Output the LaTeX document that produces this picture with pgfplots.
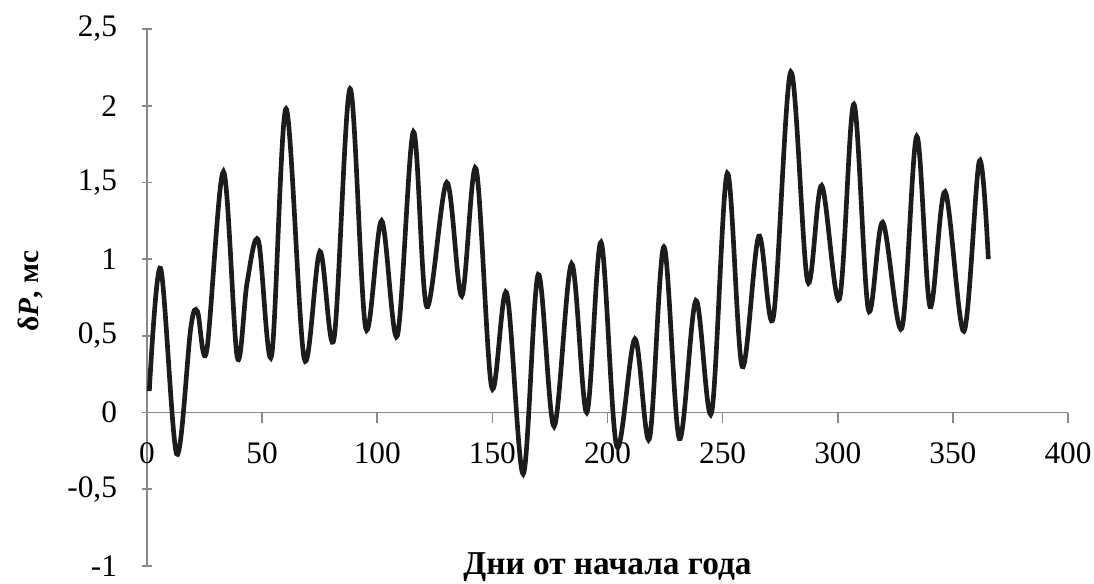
\documentclass[border=0pt]{standalone}
\usepackage{fontspec}
\setmainfont{Liberation Serif}
\usepackage{pgfplots}
\pgfplotsset{compat=1.18}

\definecolor{axgray}{HTML}{898989}
\definecolor{curve}{HTML}{1C1C1C}

\begin{document}
\begin{tikzpicture}
\begin{axis}[
    scale only axis,
    width=690.75pt, height=402.75pt,
    xmin=0, xmax=400, ymin=-1, ymax=2.5,
    axis x line=middle, axis y line=left,
    axis line style={-, axgray, line width=1.2pt},
    every tick/.style={axgray, line width=1.2pt},
    major tick length=8pt,
    xtick={0,50,...,400},
    ytick={-1,-0.5,...,2.5},
    x tick style={yshift=-4pt},
    hide obscured x ticks=false, hide obscured y ticks=false,
    /pgf/number format/.cd, use comma, assume math mode=true, /pgfplots/.cd,
    tick label style={font=\fontsize{23.5}{26}\selectfont},
    xticklabel style={anchor=north, yshift=-15pt},
    yticklabel style={anchor=east, xshift=-15pt},
    xlabel={\textbf{Дни от начала года}},
    xlabel style={font=\fontsize{25}{28}\selectfont, at={(axis description cs:0.5,0)}, yshift=-6.5pt, anchor=base},
    ylabel={\textbf{δ\textit{P}, мс}},
    ylabel style={font=\fontsize{22}{25}\selectfont, at={(axis description cs:-0.127,0.512)}, anchor=center},
]
\addplot[curve, line width=3.5pt, smooth, tension=0.55] coordinates {
    (1,0.14) (5.9,0.94) (12.9,-0.27) (19,0.55) (21.9,0.66) (25.9,0.40)
    (33.2,1.57) (39.2,0.36) (43.5,0.85) (48.4,1.12) (54.1,0.37) (60.4,1.98)
    (68.3,0.35) (75.1,1.05) (81.2,0.48) (88.2,2.11) (95,0.55) (101.9,1.25)
    (108.7,0.50) (115.7,1.83) (121.5,0.69) (130.2,1.50) (136.7,0.76) (142.9,1.59)
    (149.7,0.165) (156.2,0.78) (163.4,-0.40) (169.9,0.90) (176.8,-0.09) (184.4,0.97)
    (191,0.0) (197.2,1.11) (204,-0.22) (211.9,0.48) (218.2,-0.17) (224.5,1.08)
    (231.2,-0.17) (238.4,0.73) (245.2,0.0) (252,1.56) (258.5,0.30) (265.7,1.15)
    (272,0.62) (279.6,2.22) (286.9,0.855) (293,1.48) (300.7,0.74) (307,2.01)
    (313.3,0.67) (319.5,1.24) (327.8,0.55) (334.3,1.80) (340.1,0.69) (346.6,1.44)
    (354.8,0.53) (361.5,1.64) (365.4,1.00)
};
\end{axis}
\pgfresetboundingbox
\path[use as bounding box] ([xshift=-110.25pt,yshift=-12.75pt]current axis.south west)
    rectangle ([xshift=19.5pt,yshift=21.75pt]current axis.north east);
\end{tikzpicture}
\end{document}
